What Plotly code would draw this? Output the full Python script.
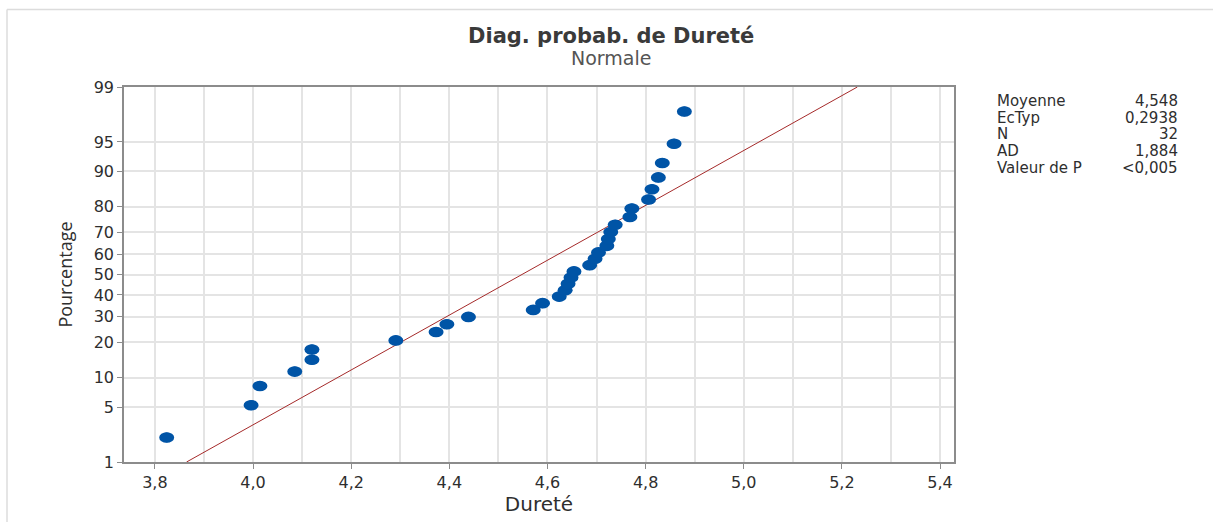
import plotly.graph_objects as go
from statistics import NormalDist

# ---- data ----
durete = [3.824, 3.996, 4.014, 4.085, 4.120, 4.120, 4.291, 4.373, 4.395, 4.439,
          4.571, 4.590, 4.624, 4.636, 4.642, 4.648, 4.654, 4.686, 4.697, 4.704,
          4.721, 4.724, 4.729, 4.738, 4.768, 4.772, 4.806, 4.813, 4.826, 4.834,
          4.858, 4.879]
moyenne = 4.548
ectyp = 0.2938
pct_ticks = [1, 5, 10, 20, 30, 40, 50, 60, 70, 80, 90, 95, 99]
x_ticks = [3.8, 4.0, 4.2, 4.4, 4.6, 4.8, 5.0, 5.2, 5.4]
x_tick_labels = ["3,8", "4,0", "4,2", "4,4", "4,6", "4,8", "5,0", "5,2", "5,4"]
x_minor = [3.9, 4.1, 4.3, 4.5, 4.7, 4.9, 5.1, 5.3]
stat_names = ["Moyenne", "EcTyp", "N", "AD", "Valeur de P"]
stat_values = ["4,548", "0,2938", "32", "1,884", "<0,005"]

nd = NormalDist()
n = len(durete)
xs = sorted(durete)
# median-rank plotting positions (Benard)
zs = [nd.inv_cdf((i - 0.3) / (n + 0.4)) for i in range(1, n + 1)]
z_lo, z_hi = nd.inv_cdf(0.01), nd.inv_cdf(0.99)

FONT = "DejaVu Sans"
TXT = "#2E2E2E"
BLUE = "#0054A6"

fig = go.Figure()
fig.add_trace(go.Scatter(
    x=[moyenne + ectyp * z_lo, moyenne + ectyp * z_hi], y=[z_lo, z_hi],
    mode="lines", line=dict(color="#A52A2A", width=1), hoverinfo="skip"))
fig.add_trace(go.Scatter(
    x=xs, y=zs, mode="markers",
    marker=dict(color=BLUE, size=10, line=dict(width=0))))

# elliptical markers (wider than tall), anchored at each data point
for xv, zv in zip(xs, zs):
    fig.add_shape(type="circle", xref="x", yref="y",
                  xsizemode="pixel", ysizemode="pixel",
                  xanchor=xv, yanchor=zv, x0=-7.5, x1=7.5, y0=-5.3, y1=5.3,
                  fillcolor=BLUE, line=dict(width=0), layer="above")

axis_common = dict(showline=True, linecolor="#8C8C8C", linewidth=1.5, mirror=True,
                   showgrid=True, gridcolor="#E4E4E4", gridwidth=1.5,
                   ticks="outside", ticklen=5, tickcolor="#8C8C8C",
                   tickfont=dict(family=FONT, size=16, color=TXT), zeroline=False)

fig.update_layout(
    width=1213, height=522,
    margin=dict(l=124, r=259, t=87, b=60),
    paper_bgcolor="white", plot_bgcolor="white",
    showlegend=False,
    xaxis=dict(range=[3.737, 5.4285], tickvals=x_ticks, ticktext=x_tick_labels,
               minor=dict(tickvals=x_minor, showgrid=True, gridcolor="#E4E4E4",
                          gridwidth=1.5, ticks=""),
               title=dict(text="Dureté", font=dict(family=FONT, size=20, color=TXT), standoff=3),
               **axis_common),
    yaxis=dict(range=[z_lo, z_hi], tickvals=[nd.inv_cdf(p / 100) for p in pct_ticks],
               ticktext=[str(p) for p in pct_ticks],
               title=dict(text="Pourcentage", font=dict(family="Open Sans", size=18, color=TXT),
                          standoff=16),
               **axis_common),
)

pw, ph, l, b = 830.0, 375.0, 124.0, 60.0
def px2paper(xp, yp):
    return (xp - l) / pw, (522 - b - yp) / ph

annotations = []
tx, ty = px2paper(611, 36)
annotations.append(dict(x=tx, y=ty, xref="paper", yref="paper", showarrow=False,
                        text="<b>Diag. probab. de Dureté</b>", xanchor="center", yanchor="middle",
                        font=dict(family=FONT, size=21, color="#3A3A3A")))
tx, ty = px2paper(611, 57.5)
annotations.append(dict(x=tx, y=ty, xref="paper", yref="paper", showarrow=False,
                        text="Normale", xanchor="center", yanchor="middle",
                        font=dict(family=FONT, size=19, color="#555555")))
rows_y = [101, 117.5, 134, 151, 167.5]
for name, val, yp in zip(stat_names, stat_values, rows_y):
    ax, ay = px2paper(995, yp)
    annotations.append(dict(x=ax, y=ay, xref="paper", yref="paper", showarrow=False,
                            text=name, xanchor="left", yanchor="middle",
                            font=dict(family=FONT, size=15, color=TXT)))
    bx, _ = px2paper(1180, yp)
    annotations.append(dict(x=bx, y=ay, xref="paper", yref="paper", showarrow=False,
                            text=val, xanchor="right", yanchor="middle",
                            font=dict(family=FONT, size=15, color=TXT)))
fig.update_layout(annotations=annotations)

# outer frame lines (top and left)
x0, y0 = px2paper(7, 9.5)
x1, _ = px2paper(1213, 9.5)
_, y1 = px2paper(7, 522)
fig.add_shape(type="line", xref="paper", yref="paper", x0=x0, y0=y0, x1=x1, y1=y0,
              line=dict(color="#DCDCDC", width=1.5))
fig.add_shape(type="line", xref="paper", yref="paper", x0=x0, y0=y0, x1=x0, y1=y1,
              line=dict(color="#DCDCDC", width=1.5))

fig.write_html("out.html")
